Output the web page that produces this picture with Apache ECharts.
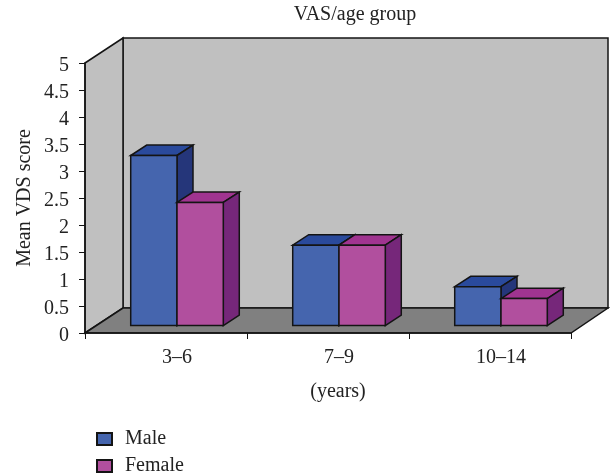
<!DOCTYPE html>
<html><head><meta charset="utf-8">
<style>html,body{margin:0;padding:0;background:#fff}#c{width:610px;height:475px}</style>
<script src="https://cdn.jsdelivr.net/npm/echarts@6/dist/echarts.min.js"></script>
</head><body><div id="c"></div>
<script>
const categories = ['3–6', '7–9', '10–14'];
const maleValues = [3.15, 1.49, 0.72];
const femaleValues = [2.28, 1.49, 0.5];
const yTicks = {min: 0, max: 5, interval: 0.5};

const FONT = '"Liberation Serif", serif';
const FS = 20;
const TEXT = '#222';
const EDGE = '#141414';
const WALL = [38, -25];       // full depth of the box
const FRONT = [11, -7.4];     // bar front plane
const DEPTH = [16, -10.4];    // bar depth
const BAR = 0.2857;           // one bar as share of a category

function poly(points, fill, lw) {
  return {type: 'polygon', shape: {points},
    style: {fill, stroke: EDGE, lineWidth: lw || 1.5, lineJoin: 'miter'}};
}
function box(params) {
  const s = params.coordSys;
  const L = s.x, R = s.x + s.width, T = s.y, B = s.y + s.height;
  const dx = WALL[0], dy = WALL[1];
  return {type: 'group', children: [
    poly([[L + dx, T + dy], [R + dx - 1, T + dy], [R + dx - 1, B + dy], [L + dx, B + dy]], '#c0c0c0'),
    poly([[L, T], [L + dx, T + dy], [L + dx, B + dy], [L, B]], '#c0c0c0'),
    poly([[L, B], [L + dx, B + dy], [R + dx - 1, B + dy], [R, B]], '#808080')
  ]};
}
function bars(side, front, top, dark) {
  return function (params, api) {
    const idx = api.value(0), v = api.value(1);
    const w = api.size([1, 0])[0] * BAR;
    const c = api.coord([idx, v]), b = api.coord([idx, 0]);
    const x0 = c[0] + FRONT[0] + (side === 0 ? -w : 0), x1 = x0 + w;
    const yT = c[1] + FRONT[1], yB = b[1] + FRONT[1];
    const dx = DEPTH[0], dy = DEPTH[1];
    return {type: 'group', children: [
      poly([[x0, yT], [x0 + dx, yT + dy], [x1 + dx, yT + dy], [x1, yT]], top),
      poly([[x1, yT], [x1 + dx, yT + dy], [x1 + dx, yB + dy], [x1, yB]], dark),
      poly([[x0, yT], [x1, yT], [x1, yB], [x0, yB]], front)
    ]};
  };
}
const chart = echarts.init(document.getElementById('c'), null, {renderer: 'canvas'});
chart.setOption({
  animation: false,
  backgroundColor: '#fff',
  textStyle: {fontFamily: FONT, color: TEXT},
  title: {text: 'VAS/age group', left: 355, top: 3, padding: [2, 0], textAlign: 'center',
    textStyle: {fontFamily: FONT, fontSize: FS, fontWeight: 'normal', color: TEXT}},
  grid: {left: 85, right: 39, top: 63, bottom: 142, containLabel: false},
  xAxis: {type: 'category', data: categories, boundaryGap: true,
    name: '(years)', nameLocation: 'middle', nameGap: 49,
    nameTextStyle: {fontFamily: FONT, fontSize: FS, color: TEXT, padding: [0, 0, 0, 20]},
    z: 5,
    axisLine: {lineStyle: {color: EDGE, width: 1.5}},
    axisTick: {show: true, length: 6, lineStyle: {color: EDGE, width: 1}},
    axisLabel: {fontFamily: FONT, fontSize: FS, color: TEXT, margin: 15, padding: [0, 0, 0, 22]},
    splitLine: {show: false}},
  yAxis: {type: 'value', min: yTicks.min, max: yTicks.max, interval: yTicks.interval,
    name: 'Mean VDS score', nameLocation: 'middle', nameGap: 50, nameMoveOverlap: false,
    nameTextStyle: {fontFamily: FONT, fontSize: FS, color: TEXT},
    z: 5,
    axisLine: {show: true, lineStyle: {color: EDGE, width: 1.5}},
    axisTick: {show: true, length: 6, lineStyle: {color: EDGE, width: 1}},
    axisLabel: {fontFamily: FONT, fontSize: FS, color: TEXT, margin: 16,
      verticalAlign: 'top', lineHeight: 6},
    splitLine: {show: false}},
  legend: {orient: 'vertical', left: 96, top: 429, height: 60, padding: 0,
    itemWidth: 15, itemHeight: 12, itemGap: 7,
    data: ['Male', 'Female'], icon: 'rect',
    textStyle: {fontFamily: FONT, fontSize: FS, color: TEXT, padding: [0, 0, 0, 8]}},
  series: [
    {type: 'custom', name: 'box', silent: true, clip: false, z: 1, data: [[0, 0]],
      renderItem: box},
    {type: 'custom', name: 'Male', clip: false, z: 2,
      itemStyle: {color: '#4565ae', borderColor: EDGE, borderWidth: 1.5},
      data: maleValues.map((v, i) => [i, v]),
      encode: {x: 0, y: 1},
      renderItem: bars(0, '#4565ae', '#2a4a9c', '#25367a')},
    {type: 'custom', name: 'Female', clip: false, z: 3,
      itemStyle: {color: '#b14f9e', borderColor: EDGE, borderWidth: 1.5},
      data: femaleValues.map((v, i) => [i, v]),
      encode: {x: 0, y: 1},
      renderItem: bars(1, '#b14f9e', '#a03490', '#76277a')}
  ]
});
</script></body></html>
